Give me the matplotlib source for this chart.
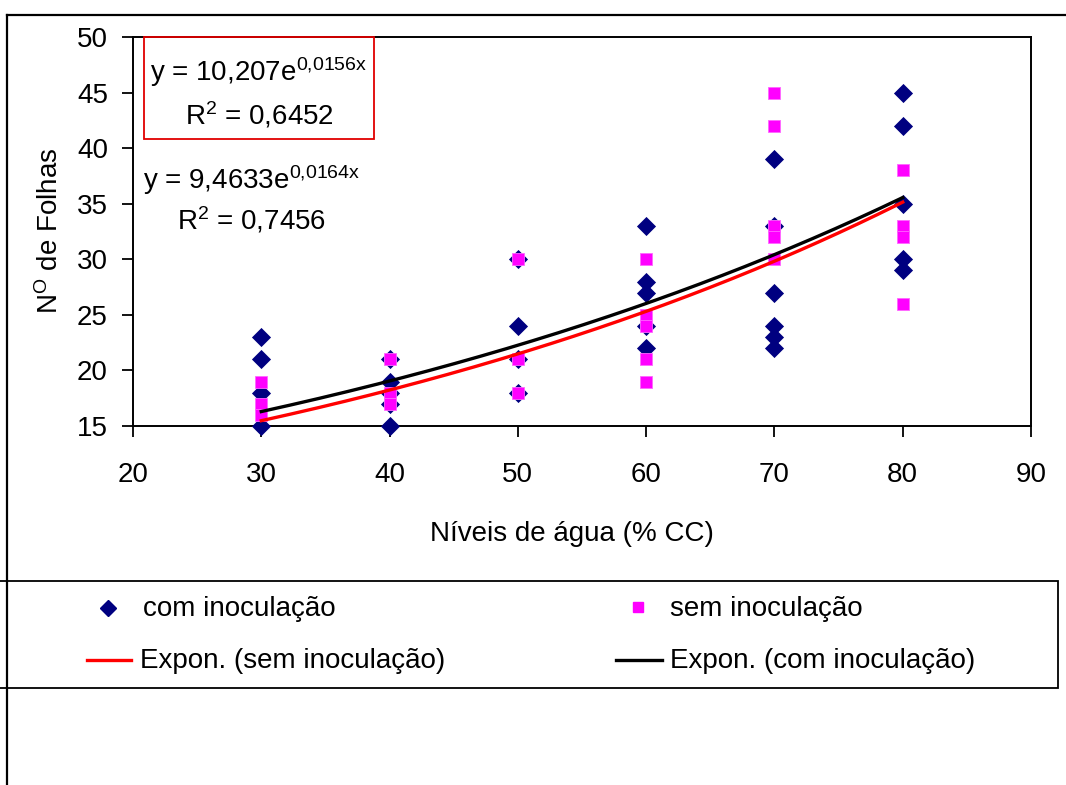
import numpy as np
import matplotlib
matplotlib.use("Agg")
import matplotlib.pyplot as plt
from matplotlib.lines import Line2D
from matplotlib.patches import Rectangle

plt.rcParams['font.family'] = ['Liberation Sans', 'DejaVu Sans']
plt.rcParams['mathtext.fontset'] = 'custom'
plt.rcParams['mathtext.rm'] = 'Liberation Sans'
plt.rcParams['mathtext.it'] = 'Liberation Sans'

# com inoculacao (diamonds)
com_x = [30, 30, 30, 30, 40, 40, 40, 40, 40, 50, 50, 50, 50,
         60, 60, 60, 60, 60, 70, 70, 70, 70, 70, 70, 80, 80, 80, 80, 80]
com_y = [23, 21, 18, 15, 21, 19, 18, 17, 15, 30, 24, 21, 18,
         33, 28, 27, 24, 22, 39, 33, 27, 24, 23, 22, 45, 42, 35, 30, 29]

# sem inoculacao (squares)
sem_x = [30, 30, 30, 40, 40, 40, 50, 50, 50,
         60, 60, 60, 60, 60, 70, 70, 70, 70, 70, 80, 80, 80, 80]
sem_y = [19, 17, 16, 21, 18, 17, 30, 21, 18,
         30, 25, 24, 21, 19, 45, 42, 33, 32, 30, 38, 33, 32, 26]

# exponential trendlines y = a*exp(b*x)
trend_com = (10.207, 0.0156)
trend_sem = (9.4633, 0.0164)
eq_com = ("y = 10,207e", "0{,}0156x", "0,6452")
eq_sem = ("y = 9,4633e", "0{,}0164x", "0,7456")

FS = 20
W, H = 1066, 785
fig = plt.figure(figsize=(W / 100, H / 100), dpi=100)


def fx(px):
    return px / W


def fy(py):
    return 1 - py / H


ax = fig.add_axes([fx(133), fy(426), fx(1031) - fx(133), fy(37) - fy(426)])

ax.scatter(com_x, com_y, marker='D', s=95, color='#000080', zorder=3, linewidths=0,
           clip_on=False)
ax.scatter(sem_x, sem_y, marker='s', s=85, color='#FF00FF', edgecolors='#FF66FF',
           linewidths=0.6, zorder=4, clip_on=False)

xs = np.linspace(30, 80, 200)
ax.plot(xs, trend_sem[0] * np.exp(trend_sem[1] * xs), color='#FF0000', lw=2.4, zorder=5)
ax.plot(xs, trend_com[0] * np.exp(trend_com[1] * xs), color='black', lw=2.4, zorder=6)

ax.set_xlim(20, 90)
ax.set_ylim(15, 50)
ax.set_xticks(range(20, 91, 10))
ax.set_yticks(range(15, 51, 5))
ax.tick_params(axis='both', direction='out', length=8, width=1.3, labelsize=FS)
ax.tick_params(axis='x', pad=18)
ax.tick_params(axis='y', pad=10)
for sp in ax.spines.values():
    sp.set_linewidth(1.4)

fig.text(fx(50), fy(231), r'N$^{\mathregular{O}}$ de Folhas', fontsize=FS,
         rotation=90, ha='center', va='center')
fig.text(fx(572), fy(534), 'Níveis de água (% CC)', fontsize=FS, ha='center', va='center')

# equations
fig.text(fx(259), fy(72), eq_com[0] + r'$^{\mathregular{' + eq_com[1] + '}}$',
         fontsize=FS, ha='center', va='center')
fig.text(fx(259), fy(115), r'R$^{\mathregular{2}}$ = ' + eq_com[2],
         fontsize=FS, ha='center', va='center')
fig.patches.append(Rectangle((fx(144), fy(139)), fx(374) - fx(144), fy(37) - fy(139),
                             transform=fig.transFigure, fill=False, ec='#E00000', lw=1.3))
fig.text(fx(252), fy(180), eq_sem[0] + r'$^{\mathregular{' + eq_sem[1] + '}}$',
         fontsize=FS, ha='center', va='center')
fig.text(fx(252), fy(220), r'R$^{\mathregular{2}}$ = ' + eq_sem[2],
         fontsize=FS, ha='center', va='center')

# outer border
fig.lines.append(Line2D([fx(7), fx(7)], [fy(15), 0], transform=fig.transFigure, color='black', lw=1.6))
fig.lines.append(Line2D([fx(7), 1], [fy(15), fy(15)], transform=fig.transFigure, color='black', lw=1.6))

# legend box
fig.patches.append(Rectangle((fx(-5), fy(688)), fx(1058) - fx(-5), fy(581) - fy(688),
                             transform=fig.transFigure, fill=False, ec='black', lw=1.3))
fig.lines.append(Line2D([fx(108)], [fy(608)], transform=fig.transFigure, marker='D',
                        ms=8, color='#000080', ls='none'))
fig.text(fx(143), fy(609), 'com inoculação', fontsize=FS, va='center')
fig.lines.append(Line2D([fx(638)], [fy(607)], transform=fig.transFigure, marker='s',
                        ms=7, color='#FF00FF', ls='none'))
fig.text(fx(670), fy(609), 'sem inoculação', fontsize=FS, va='center')
fig.lines.append(Line2D([fx(87), fx(131)], [fy(660), fy(660)], transform=fig.transFigure,
                        color='#FF0000', lw=2.4))
fig.text(fx(140), fy(661), 'Expon. (sem inoculação)', fontsize=FS, va='center')
fig.lines.append(Line2D([fx(616), fx(662)], [fy(660), fy(660)], transform=fig.transFigure,
                        color='black', lw=2.4))
fig.text(fx(670), fy(661), 'Expon. (com inoculação)', fontsize=FS, va='center')

fig.savefig('out.png', dpi=100)
